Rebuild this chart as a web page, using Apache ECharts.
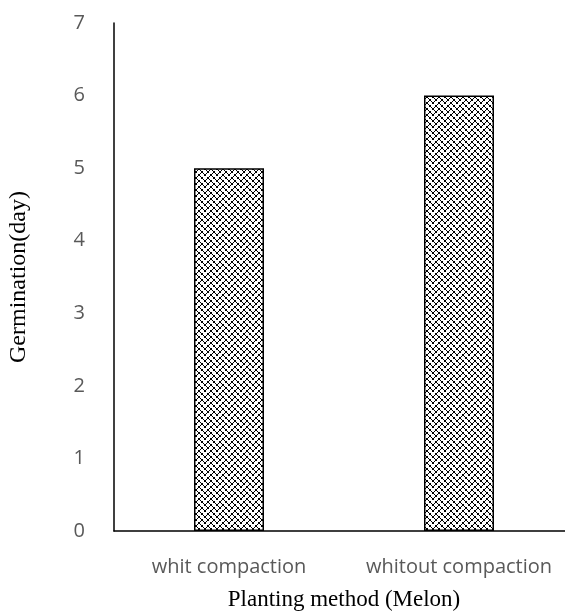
<!DOCTYPE html>
<html><head><meta charset="utf-8">
<script src="https://cdn.jsdelivr.net/npm/echarts@6/dist/echarts.min.js"></script>
<style>html,body{margin:0;padding:0;background:#fff}#c{width:565px;height:612px}</style>
</head><body><div id="c"></div>
<script>
const categories = ['whit compaction', 'whitout compaction'];
const germinationDays = [5, 6];
const yTicks = [0, 1, 2, 3, 4, 5, 6, 7];

// weave pattern tile (8x8 bitmap upscaled 1.5x, nearest)
function makePattern() {
  const bits = [0x88, 0x54, 0x22, 0x45, 0x88, 0x14, 0x22, 0x51];
  const S = 12;
  const c = document.createElement('canvas');
  c.width = S; c.height = S;
  const ctx = c.getContext('2d');
  ctx.fillStyle = '#fff'; ctx.fillRect(0, 0, S, S);
  ctx.fillStyle = '#000';
  for (let Y = 0; Y < S; Y++) for (let X = 0; X < S; X++) {
    const y = Math.floor(Y / 1.5), x = Math.floor(X / 1.5);
    if (bits[y] & (0x80 >> x)) ctx.fillRect(X, Y, 1, 1);
  }
  return c;
}

const chart = echarts.init(document.getElementById('c'), null, {renderer: 'canvas'});
chart.setOption({
  animation: false,
  grid: {left: 114, top: 23, width: 460, height: 508, containLabel: false, outerBoundsMode: 'none'},
  xAxis: {
    type: 'category', data: categories,
    axisLine: {lineStyle: {color: '#000', width: 1.5}},
    axisTick: {show: false},
    axisLabel: {color: '#595959', fontFamily: 'Open Sans', fontSize: 20, margin: 26, interval: 0, hideOverlap: false},
    name: 'Planting method (Melon)', nameLocation: 'middle', nameGap: 57,
    nameTextStyle: {color: '#000', fontFamily: 'Liberation Serif', fontSize: 23}
  },
  yAxis: {
    type: 'value', min: yTicks[0], max: yTicks[yTicks.length - 1], interval: 1,
    axisLine: {show: true, lineStyle: {color: '#000', width: 1.5}},
    axisTick: {show: false},
    splitLine: {show: false},
    axisLabel: {color: '#595959', fontFamily: 'Open Sans', fontSize: 20, margin: 29},
    name: 'Germination(day)', nameLocation: 'middle', nameGap: 83, nameRotate: 90,
    nameTextStyle: {color: '#000', fontFamily: 'Liberation Serif', fontSize: 24}
  },
  series: [{
    type: 'bar', data: germinationDays, barWidth: 70,
    itemStyle: {
      color: {image: makePattern(), repeat: 'repeat'},
      borderColor: '#000', borderWidth: 1.5
    }
  }]
});
</script></body></html>
